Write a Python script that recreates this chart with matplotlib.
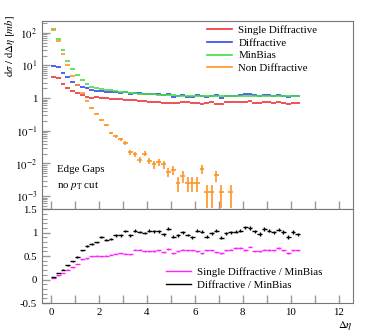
import matplotlib
matplotlib.use('Agg')
from matplotlib import pyplot as plt
from matplotlib.ticker import MultipleLocator, FixedLocator, LogLocator, NullFormatter
from matplotlib.lines import Line2D
import numpy as np

plt.rcParams['font.family'] = 'serif'
plt.rcParams['font.serif'] = ['Liberation Serif', 'DejaVu Serif']
plt.rcParams['mathtext.fontset'] = 'stix'
plt.rcParams['font.size'] = 7.8

# bin centres in delta eta (bin width 0.2)
deta = [0.1, 0.3, 0.5, 0.7, 0.9, 1.1, 1.3, 1.5, 1.7, 1.9,
        2.1, 2.3, 2.5, 2.7, 2.9, 3.1, 3.3, 3.5, 3.7, 3.9,
        4.1, 4.3, 4.5, 4.7, 4.9, 5.1, 5.3, 5.5, 5.7, 5.9,
        6.1, 6.3, 6.5, 6.7, 6.9, 7.1, 7.3, 7.5, 7.7, 7.9,
        8.1, 8.3, 8.5, 8.7, 8.9, 9.1, 9.3, 9.5, 9.7, 9.9,
        10.1, 10.3]

single_diff = [4.4, 4.1, 2.8, 2.0, 1.6, 1.42, 1.25, 1.12, 1.03, 1.06,
               1.02, 0.98, 0.95, 0.93, 0.92, 0.88, 0.86, 0.85, 0.83, 0.80,
               0.78, 0.78, 0.77, 0.73, 0.73, 0.71, 0.72, 0.74, 0.74, 0.73,
               0.71, 0.66, 0.73, 0.74, 0.68, 0.66, 0.74, 0.76, 0.78, 0.78,
               0.76, 0.83, 0.70, 0.70, 0.76, 0.76, 0.73, 0.78, 0.73, 0.68,
               0.73, 0.73]
diffractive = [9.5, 8.9, 6.0, 4.6, 3.1, 2.5, 2.2, 2.0, 1.8, 1.65,
               1.68, 1.51, 1.52, 1.55, 1.46, 1.55, 1.36, 1.48, 1.39, 1.34,
               1.38, 1.34, 1.32, 1.22, 1.35, 1.11, 1.13, 1.21, 1.12, 1.06,
               1.22, 1.20, 1.06, 1.19, 1.23, 1.04, 1.18, 1.19, 1.18, 1.22,
               1.33, 1.31, 1.21, 1.13, 1.27, 1.25, 1.18, 1.23, 1.19, 1.08,
               1.18, 1.13]
minbias = [130, 65, 29, 14, 7.9, 5.1, 3.5, 2.7, 2.2, 2.0,
           1.85, 1.78, 1.75, 1.65, 1.55, 1.50, 1.45, 1.42, 1.38, 1.35,
           1.33, 1.30, 1.28, 1.27, 1.25, 1.22, 1.20, 1.20, 1.18, 1.18,
           1.17, 1.18, 1.17, 1.20, 1.18, 1.17, 1.19, 1.18, 1.16, 1.17,
           1.20, 1.19, 1.17, 1.16, 1.18, 1.20, 1.17, 1.16, 1.18, 1.19,
           1.17, 1.18]
nan = float('nan')
non_diff = [120, 58, 23, 10, 4.7, 2.5, 1.4, 0.83, 0.49, 0.33,
            0.21, 0.15, 0.085, 0.067, 0.055, 0.043, 0.022, 0.019, 0.013, 0.020,
            0.012, 0.0093, 0.011, 0.0093, 0.0056, 0.0063, 0.0026, 0.0041, 0.0026, 0.0026,
            0.0026, 0.0067, 0.0013, 0.0013, 0.0043, 0.0013, nan, 0.0013, nan, nan,
            nan, nan, nan, nan, nan, nan, nan, nan, nan, nan,
            nan, nan]
non_diff_err = [0, 0, 0, 0, 0, 0, 0, 0.01, 0.012, 0.014,
                0.011, 0.0095, 0.0071, 0.0063, 0.0057, 0.0051, 0.0036, 0.0034, 0.0028, 0.0035,
                0.0027, 0.0024, 0.0026, 0.0024, 0.0018, 0.0019, 0.0013, 0.0016, 0.0013, 0.0013,
                0.0013, 0.002, 0.00088, 0.00088, 0.0016, 0.00088, nan, 0.00088, nan, nan,
                nan, nan, nan, nan, nan, nan, nan, nan, nan, nan,
                nan, nan]

ratio_diff = [0.06, 0.14, 0.21, 0.30, 0.39, 0.48, 0.62, 0.72, 0.76, 0.79,
              0.91, 0.85, 0.87, 0.94, 0.94, 1.03, 0.94, 1.04, 1.01, 0.99,
              1.04, 1.03, 1.03, 0.96, 1.08, 0.91, 0.94, 1.01, 0.95, 0.90,
              1.04, 1.02, 0.91, 0.99, 1.04, 0.89, 0.99, 1.01, 1.02, 1.04,
              1.11, 1.10, 1.03, 0.97, 1.08, 1.04, 1.01, 1.06, 1.01, 0.91,
              1.01, 0.96]
ratio_sd = [0.04, 0.09, 0.14, 0.21, 0.26, 0.33, 0.43, 0.45, 0.50, 0.51,
            0.50, 0.51, 0.53, 0.55, 0.56, 0.55, 0.54, 0.64, 0.64, 0.60,
            0.60, 0.61, 0.62, 0.58, 0.65, 0.56, 0.60, 0.64, 0.62, 0.62,
            0.60, 0.56, 0.62, 0.62, 0.58, 0.56, 0.62, 0.64, 0.67, 0.67,
            0.63, 0.70, 0.60, 0.60, 0.64, 0.63, 0.62, 0.67, 0.62, 0.57,
            0.62, 0.62]
ratio_diff_err = [0.004, 0.006, 0.008, 0.01, 0.012, 0.014, 0.016, 0.018, 0.02, 0.02,
                  0.022, 0.022, 0.024, 0.024, 0.025, 0.026, 0.026, 0.027, 0.028, 0.028,
                  0.028, 0.029, 0.029, 0.03, 0.03, 0.03, 0.03, 0.031, 0.031, 0.031,
                  0.032, 0.032, 0.032, 0.032, 0.033, 0.033, 0.033, 0.033, 0.034, 0.034,
                  0.034, 0.034, 0.035, 0.035, 0.035, 0.035, 0.035, 0.036, 0.036, 0.036,
                  0.036, 0.036]
ratio_sd_err = [0.003, 0.004, 0.005, 0.006, 0.007, 0.008, 0.009, 0.01, 0.01, 0.011,
                0.011, 0.011, 0.012, 0.012, 0.012, 0.012, 0.013, 0.013, 0.013, 0.013,
                0.013, 0.013, 0.014, 0.014, 0.014, 0.014, 0.014, 0.014, 0.014, 0.015,
                0.015, 0.015, 0.015, 0.015, 0.015, 0.015, 0.015, 0.015, 0.016, 0.016,
                0.016, 0.016, 0.016, 0.016, 0.016, 0.016, 0.016, 0.016, 0.016, 0.016,
                0.016, 0.016]

red = '#ee3333'
blue = '#3344ee'
green = '#44dd44'
orange = '#ff9326'
magenta = '#ff22ff'
tick_col = '#999999'

fig = plt.figure(figsize=(3.65, 3.34), dpi=100)
ax = fig.add_axes([0.115, 0.374, 0.852, 0.563])
rax = fig.add_axes([0.115, 0.0928, 0.852, 0.281], sharex=ax)

# upper panel: cross sections
ax.errorbar(deta, single_diff, xerr=0.1, fmt='none', ecolor=red, elinewidth=1.2)
ax.errorbar(deta, diffractive, xerr=0.1, fmt='none', ecolor=blue, elinewidth=1.2)
ax.errorbar(deta, minbias, xerr=0.1, fmt='none', ecolor=green, elinewidth=1.2)
ax.errorbar(deta, non_diff, xerr=0.1, yerr=non_diff_err, fmt='none', ecolor=orange, elinewidth=1.2)

ax.set_yscale('log')
ax.set_ylim(4e-4, 2.3e2)
ax.set_xlim(-0.38, 12.6)
ax.yaxis.set_major_locator(FixedLocator([1e-3, 1e-2, 1e-1, 1, 10, 100]))
ax.set_yticklabels([r'$10^{-3}$', r'$10^{-2}$', r'$10^{-1}$', '1', r'$10^{1}$', r'$10^{2}$'])
ax.yaxis.set_minor_locator(LogLocator(base=10, subs=np.arange(2, 10), numticks=20))
ax.yaxis.set_minor_formatter(NullFormatter())

handles = [Line2D([], [], color=c, lw=1.2) for c in [red, blue, green, orange]]
ax.legend(handles, ['Single Diffractive', 'Diffractive', 'MinBias', 'Non Diffractive'],
          loc='upper left', bbox_to_anchor=(207 / 365, 1 - 25 / 334), bbox_transform=fig.transFigure,
          frameon=False, borderpad=0, borderaxespad=0, handlelength=2.3, handletextpad=0.6,
          labelspacing=0.3)

fig.text(57 / 365, 1 - 169 / 334, 'Edge Gaps', va='center', ha='left')
fig.text(57 / 365, 1 - 186 / 334, r'no $p_\mathrm{T}$ cut', va='center', ha='left')
fig.text(10 / 365, 1 - 15 / 334, r'$\mathrm{d}\sigma\ /\ \mathrm{d}\Delta\eta\ [mb]$',
         rotation=90, ha='center', va='top')

# lower panel: ratios
rax.errorbar(deta, ratio_sd, xerr=0.1, yerr=ratio_sd_err, fmt='none', ecolor=magenta, elinewidth=1.0)
rax.errorbar(deta, ratio_diff, xerr=0.1, yerr=ratio_diff_err, fmt='none', ecolor='black', elinewidth=1.0)
rax.set_ylim(-0.5, 1.5)
rax.yaxis.set_major_locator(MultipleLocator(0.5))
rax.yaxis.set_minor_locator(MultipleLocator(0.1))
rax.yaxis.set_major_formatter(plt.FuncFormatter(lambda v, p: '%g' % v))
rax.xaxis.set_major_locator(MultipleLocator(2))
rax.xaxis.set_minor_locator(MultipleLocator(1))

rhandles = [Line2D([], [], color=c, lw=1.0) for c in [magenta, 'black']]
rax.legend(rhandles, ['Single Diffractive / MinBias', 'Diffractive / MinBias'],
           loc='upper left', bbox_to_anchor=(166 / 365, 1 - 267 / 334), bbox_transform=fig.transFigure,
           frameon=False, borderpad=0, borderaxespad=0, handlelength=2.3, handletextpad=0.6,
           labelspacing=0.3)

fig.text(345 / 365, 1 - 325 / 334, r'$\Delta\eta$', ha='center', va='center')

for a in (ax, rax):
    a.tick_params(which='both', direction='in', color=tick_col, labelcolor='black', top=False, right=False)
    a.tick_params(which='major', length=6, width=1)
    a.tick_params(which='minor', length=3.5, width=0.8)
    a.tick_params(axis='x', which='minor', length=6, width=1)
    for s in a.spines.values():
        s.set_color('#777777')
        s.set_linewidth(0.8)
plt.setp(ax.get_xticklabels(), visible=False)

fig.savefig('out.png', dpi=100)
